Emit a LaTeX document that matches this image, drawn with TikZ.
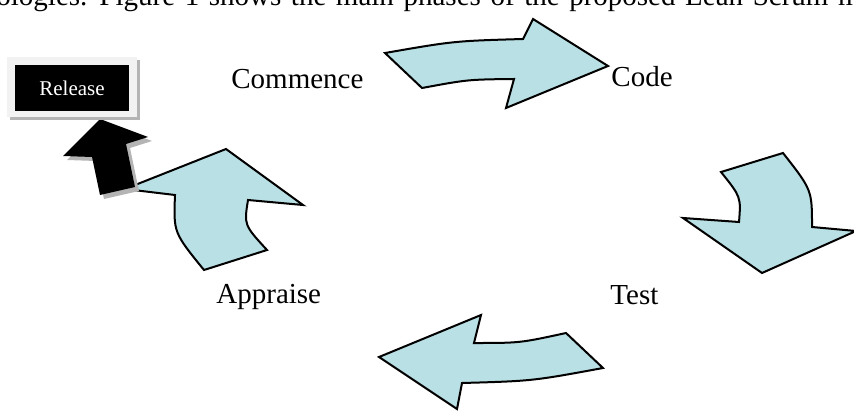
\documentclass[tikz,border=0pt]{standalone}
\usepackage{fontspec}
\setmainfont{Liberation Serif}
\definecolor{cyc}{RGB}{185,224,228}
\definecolor{framegray}{RGB}{242,242,242}
\definecolor{shadowgray}{RGB}{180,180,180}
\tikzset{
  cycarrow/.style={fill=cyc, draw=black, line width=1pt, line join=miter},
  phase/.style={inner sep=0pt, anchor=base west, font=\fontsize{14.5}{17}\selectfont},
}
\begin{document}
\begin{tikzpicture}[x=0.5pt,y=-0.5pt]
\useasboundingbox (0,0) rectangle (854,411);
\clip (0,0) rectangle (854,411);

% running text cut at top
\node[phase] (body) at (-4,6) {\spaceskip=4.8pt plus 0pt minus 0pt ologies. Figure 1 shows the main phases of the proposed Lean Scrum m};

% top arrow (Commence -> Code)
\path[cycarrow] (385,53) .. controls (454,41) .. (523,39) -- (533,19) -- (608,66)
  -- (506,108) -- (514,79) .. controls (468,79.5) .. (422,88) -- cycle;

% right arrow (Code -> Test)
\path[cycarrow] (721,172) -- (783,153) .. controls (812,190) .. (812,227)
  -- (856,231) -- (762,273) -- (683,218) -- (739,222)
  .. controls (741,197) .. (721,172) -- cycle;

% bottom arrow (Test -> Appraise)
\path[cycarrow] (481,315) -- (379,357) -- (457,409) -- (462,383)
  .. controls (532.5,381) .. (603,368) -- (566,333)
  .. controls (520,343) .. (474,343) -- cycle;

% left arrow (Appraise -> Commence)
\path[cycarrow] (204,270) -- (267,250) .. controls (244,225) .. (248,200)
  -- (303,205) -- (226,149) -- (125,189) -- (175,195)
  .. controls (173.5,232.5) .. (204,270) -- cycle;

% black arrow shadow and arrow (to Release)
\fill[shadowgray] ([shift={(4,4)}]100,119) -- ([shift={(4,4)}]148,137) -- ([shift={(4,4)}]126,144)
  -- ([shift={(4,4)}]135,187) -- ([shift={(4,4)}]100,195) -- ([shift={(4,4)}]92,157)
  -- ([shift={(4,4)}]63,156) -- cycle;
\fill[black] (100,119) -- (148,137) -- (126,144) -- (135,187) -- (100,195) -- (92,157) -- (63,156) -- cycle;

% Release box
\fill[shadowgray] (10,60) rectangle (140,120);
\fill[framegray] (7,57) rectangle (137,117);
\fill[black] (15,65) rectangle (129,111);
\node[inner sep=0pt, text=white, font=\fontsize{10.5}{12}\selectfont] (release) at (72,88) {Release};

% phase labels
\node[phase] (commence) at (231,89) {Commence};
\node[phase] (code) at (611,87) {Code};
\node[phase] (appraise) at (216,303) {Appraise};
\node[phase] (test) at (610,304) {Test};
\end{tikzpicture}
\end{document}
